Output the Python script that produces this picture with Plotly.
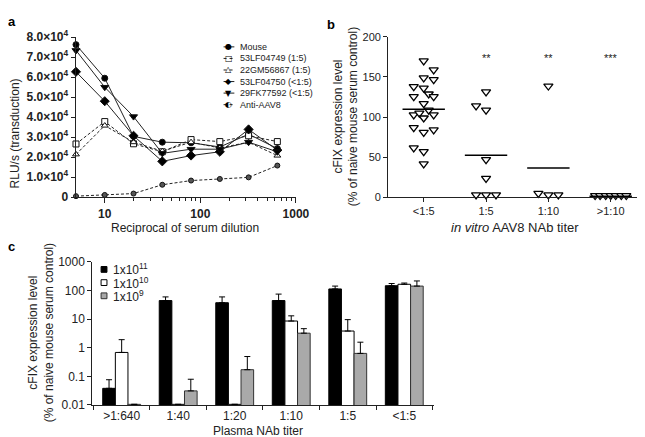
import math
import plotly.graph_objects as go

W, H = 645, 437
FONT = "Arial, Liberation Sans, Helvetica, sans-serif"

# ---------------- Panel a data ----------------
dilution = [5, 10, 20, 40, 80, 160, 320, 640]
series_names = ["Mouse", "53LF04749 (1:5)", "22GM56867 (1:5)", "53LF04750 (<1:5)",
                "29FK77592 (<1:5)", "Anti-AAV8"]
mouse = [76300, 59500, 30400, 27500, 27200, 25100, 31500, 24300]
lf04749 = [26600, 37800, 26700, 22700, 28800, 27800, 30700, 27800]
gm56867 = [21400, 35800, 27500, 23000, 27500, 24600, 27500, 20800]
lf04750 = [62700, 48000, 30700, 17900, 20800, 22700, 33900, 23500]
fk77592 = [73400, 55000, 40300, 21900, 24000, 24000, 27500, 22700]
anti_aav8 = [500, 1100, 1800, 6200, 8300, 9100, 9900, 15800]
a_yticks = [0, 10000, 20000, 30000, 40000, 50000, 60000, 70000, 80000]
a_yticktext = ["0"] + ["%.1f\u00d710<sup>4</sup>" % (v / 10000) for v in a_yticks[1:]]
a_xticks = [10, 100, 1000]
a_xminor = [20, 30, 40, 50, 60, 70, 80, 90, 200, 300, 400, 500, 600, 700, 800, 900]

# ---------------- Panel b data ----------------
b_groups = ["<1:5", "1:5", "1:10", ">1:10"]
b_vals = [
    [170, 158.8, 148.8, 146.8, 138, 136, 125.5, 128.8, 125.5, 116.8, 108.7,
     102.7, 104.8, 98.8, 102.7, 86.8, 80.8, 84, 61.6, 56.8, 41.5],
    [131.5, 114, 108.7, 46.8, 23.5, 2.8, 2.8, 2.8],
    [138.7, 4.8, 2.8, 2.8],
    [2.0, 2.0, 2.0, 2.0, 2.0, 2.0, 2.0],
]
# horizontal column offsets of each point inside its group (category units)
b_offsets = [
    [0, 0.16, 0, 0.16, -0.16, 0, -0.16, 0.08, 0.16, 0, 0.08,
     -0.16, -0.07, 0, 0.16, -0.16, 0, 0.16, -0.16, 0, 0],
    [0, -0.16, 0, 0, 0, -0.16, 0, 0.16],
    [0, -0.16, 0, 0.16],
    [-0.25, -0.17, -0.08, 0, 0.08, 0.17, 0.25],
]
b_means = [109.6, 52.3, 36.4, 1.0]
b_stars = ["", "**", "**", "***"]

# ---------------- Panel c data ----------------
c_cats = [">1:640", "1:40", "1:20", "1:10", "1:5", "<1:5"]
c_names = ["1x10<sup>11</sup>", "1x10<sup>10</sup>", "1x10<sup>9</sup>"]
c_e11 = [0.038, 44, 37, 44, 112, 145]
c_e11_top = [0.076, 59, 59, 74, 141, 173]
c_e10 = [0.68, 0.0105, 0.0105, 8.5, 3.8, 163]
c_e10_top = [1.9, None, None, 12.9, 9.5, 180]
c_e9 = [0.0105, 0.031, 0.17, 3.2, 0.63, 141]
c_e9_top = [None, 0.079, 0.49, 4.6, 1.55, 213]
c_yticks = [0.01, 0.1, 1, 10, 100, 1000]
c_yticktext = ["0.01", "0.1", "1", "10", "100", "1000"]


def px(x):
    return x / W


def py(y):
    return 1 - y / H


fig = go.Figure()

# ---- panel a traces ----
a_data = [mouse, lf04749, gm56867, lf04750, fk77592, anti_aav8]
a_sym = ["circle", "square", "triangle-up", "diamond", "triangle-down", "circle"]
a_fill = ["black", "white", "white", "black", "black", "#555555"]
a_dash = ["solid", "3px,2px", "3px,2px", "solid", "solid", "3px,2px"]
a_size = [6, 6, 6, 7, 7, 5]
for name, vals, sym, fill, dash, sz in zip(series_names, a_data, a_sym, a_fill, a_dash, a_size):
    fig.add_trace(go.Scatter(
        x=dilution, y=vals, mode="lines+markers", name=name, showlegend=False,
        line=dict(color="#222222", width=1, dash=dash),
        marker=dict(symbol=sym, size=sz, color=fill, line=dict(color="#111111", width=1)),
        xaxis="x", yaxis="y", cliponaxis=False))

# ---- panel b traces ----
for gi, (vals, offs) in enumerate(zip(b_vals, b_offsets)):
    fig.add_trace(go.Scatter(
        x=[gi + o for o in offs], y=vals, mode="markers", showlegend=False,
        marker=dict(symbol="triangle-down", size=8, color="white",
                    line=dict(color="black", width=1.3)),
        xaxis="x2", yaxis="y2", cliponaxis=False))
for gi, m in enumerate(b_means):
    fig.add_trace(go.Scatter(
        x=[gi - 0.34, gi + 0.34], y=[m, m], mode="lines", showlegend=False,
        line=dict(color="black", width=1.5), xaxis="x2", yaxis="y2", cliponaxis=False))

# ---- panel c traces ----
c_series = [(c_e11, c_e11_top, "black", "black"),
            (c_e10, c_e10_top, "white", "black"),
            (c_e9, c_e9_top, "#a9a9a9", "#333333")]
for name, (vals, tops, fill, edge) in zip(c_names, c_series):
    up = [(t - v) if t is not None else None for v, t in zip(vals, tops)]
    fig.add_trace(go.Bar(
        x=c_cats, y=vals, name=name, showlegend=False,
        marker=dict(color=fill, line=dict(color=edge, width=1)),
        error_y=dict(type="data", symmetric=False, array=up,
                     arrayminus=[0] * len(vals), color="black", thickness=1, width=3),
        xaxis="x3", yaxis="y3"))

axis_common = dict(showgrid=False, zeroline=False, showline=True, linecolor="#222222",
                   linewidth=1, ticks="outside", tickcolor="#222222", mirror=False)

fig.update_layout(
    width=W, height=H, autosize=False,
    margin=dict(l=0, r=0, t=0, b=0),
    paper_bgcolor="white", plot_bgcolor="white",
    font=dict(family=FONT, color="#222222"),
    barmode="group", bargap=0.33, bargroupgap=0,
    xaxis=dict(domain=[px(69), px(294)], anchor="y", type="log",
               range=[math.log10(5) - 0.004, 3.002], tickvals=a_xticks,
               ticktext=["<b>%d</b>" % v for v in a_xticks], ticklen=5,
               tickfont=dict(size=12),
               minor=dict(ticks="outside", ticklen=3, tickcolor="#222222",
                          tickvals=a_xminor, showgrid=False),
               **axis_common),
    yaxis=dict(domain=[py(187), py(21)], anchor="x", range=[0, 80000],
               tickvals=a_yticks, ticktext=["<b>%s</b>" % t for t in a_yticktext],
               ticklen=4, tickfont=dict(size=12), **axis_common),
    xaxis2=dict(domain=[px(388), 1.0], anchor="y2", range=[-0.57, 3.47],
                tickvals=[0, 1, 2, 3], ticktext=b_groups, ticklen=4,
                tickfont=dict(size=11), **axis_common),
    yaxis2=dict(domain=[py(187), py(20.7)], anchor="x2", range=[0, 200],
                tickvals=[0, 50, 100, 150, 200], ticklen=4,
                tickfont=dict(size=11), **axis_common),
    xaxis3=dict(domain=[px(86), px(435)], anchor="y3", type="category",
                range=[-0.52, 5.53], tickson="boundaries", ticklen=4,
                tickfont=dict(size=12), **axis_common),
    yaxis3=dict(domain=[py(402.7), py(254)], anchor="x3", type="log", range=[-2, 3],
                tickvals=c_yticks, ticktext=c_yticktext, ticklen=4,
                tickfont=dict(size=12), **axis_common),
)

ann = []
# panel letters
for letter, (x, y) in zip(["a", "b", "c"], [(4, 5), (330, 8), (4, 238)]):
    ann.append(dict(x=px(x), y=py(y), xref="paper", yref="paper", text="<b>%s</b>" % letter,
                    showarrow=False, font=dict(size=13, color="black"),
                    xanchor="center", yanchor="middle"))
# panel a axis titles
ann.append(dict(x=px(7), y=py(121), xref="paper", yref="paper", text="RLU/s (transduction)",
                textangle=-90, showarrow=False, font=dict(size=12),
                xanchor="center", yanchor="middle"))
ann.append(dict(x=px(181), y=py(219.5), xref="paper", yref="paper",
                text="Reciprocal of serum dilution", showarrow=False, font=dict(size=12),
                xanchor="center", yanchor="middle"))
# panel a legend
a_leg_y0, a_leg_dy = 31, 12.0
a_glyph = ["\u25cf", "\u25a1", "\u25b3", "\u25c6", "\u25bc", "\u25d0"]
shapes = []
for i, (name, g, dash) in enumerate(zip(series_names, a_glyph, a_dash)):
    yy = a_leg_y0 + a_leg_dy * i
    shapes.append(dict(type="line", xref="paper", yref="paper", x0=px(220), x1=px(231),
                       y0=py(yy), y1=py(yy), line=dict(color="#222222", width=1,
                                                       dash="dot" if dash != "solid" else "solid")))
    ann.append(dict(x=px(225.5), y=py(yy), xref="paper", yref="paper", text=g,
                    showarrow=False, font=dict(size=8, color="black",
                                               family="DejaVu Sans"),
                    xanchor="center", yanchor="middle", bgcolor="rgba(0,0,0,0)"))
    ann.append(dict(x=px(235), y=py(yy), xref="paper", yref="paper", text=name,
                    showarrow=False, font=dict(size=9), xanchor="left", yanchor="middle"))
# panel b titles and stars
ann.append(dict(x=px(345), y=py(104), xref="paper", yref="paper",
                text="cFIX expression level<br>(% of naive mouse serum control)",
                textangle=-90, showarrow=False, font=dict(size=12),
                xanchor="center", yanchor="middle"))
ann.append(dict(x=px(517), y=py(219), xref="paper", yref="paper",
                text="<i>in vitro</i> AAV8 NAb titer", showarrow=False, font=dict(size=13),
                xanchor="center", yanchor="middle"))
for gi, s in enumerate(b_stars):
    if s:
        ann.append(dict(x=gi, y=173.5, xref="x2", yref="y2", text=s, showarrow=False,
                        font=dict(size=11), xanchor="center", yanchor="middle"))
# panel c titles and legend
ann.append(dict(x=px(34), y=py(328), xref="paper", yref="paper",
                text="cFIX expression level<br>(% of naive mouse serum control)",
                textangle=-90, showarrow=False, font=dict(size=12),
                xanchor="center", yanchor="middle"))
ann.append(dict(x=px(255), y=py(429.5), xref="paper", yref="paper", text="Plasma NAb titer",
                showarrow=False, font=dict(size=12), xanchor="center", yanchor="middle"))
c_leg_y0, c_leg_dy = 262, 13.7
for i, (name, (_, _, fill, edge)) in enumerate(zip(c_names, c_series)):
    yy = c_leg_y0 + c_leg_dy * i
    shapes.append(dict(type="rect", xref="paper", yref="paper", x0=px(95), x1=px(101),
                       y0=py(yy + 3), y1=py(yy - 3), fillcolor=fill,
                       line=dict(color=edge, width=1)))
    ann.append(dict(x=px(105), y=py(yy), xref="paper", yref="paper", text=name,
                    showarrow=False, font=dict(size=12), xanchor="left", yanchor="middle"))

fig.update_layout(annotations=ann, shapes=shapes)
fig.write_html("out.html")
